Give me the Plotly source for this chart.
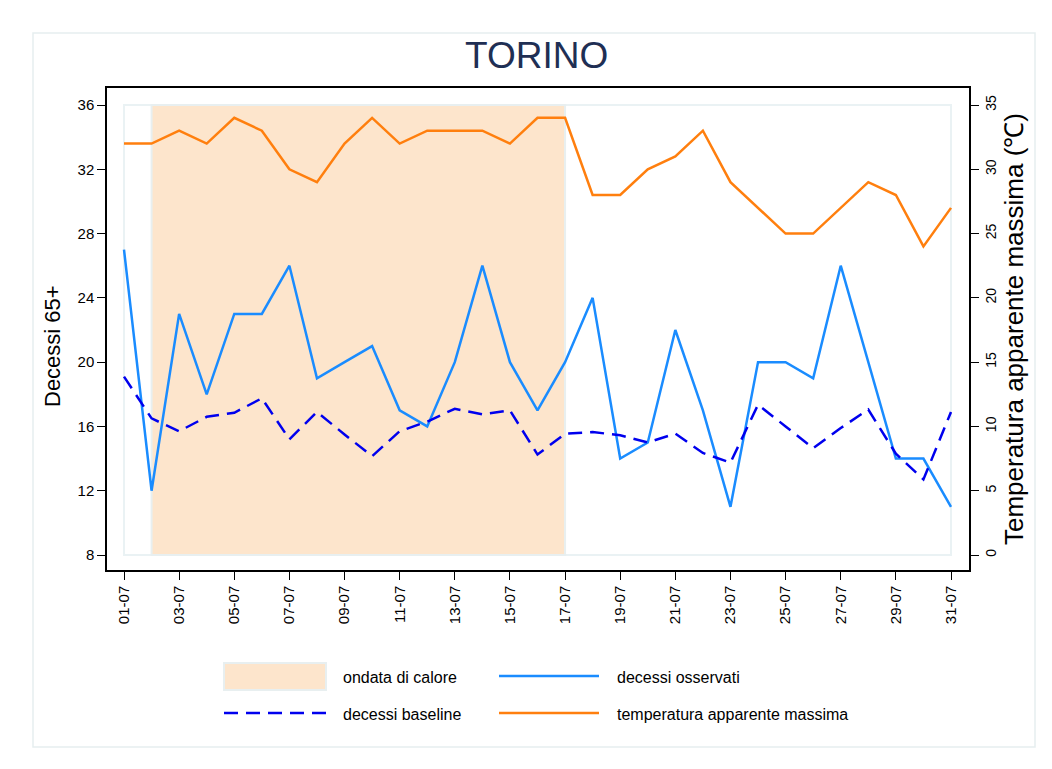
import plotly.graph_objects as go

# ---- data ----
days = list(range(1, 32))
tick_days = list(range(1, 32, 2))
tick_labels = [f"{d:02d}-07" for d in tick_days]
observed = [27, 12, 23, 18, 23, 23, 26, 19, 20, 21, 17, 16, 20, 26, 20, 17, 20,
            24, 14, 15, 22, 17, 11, 20, 20, 19, 26, 20, 14, 14, 11]
baseline = [19.1, 16.5, 15.7, 16.6, 16.85, 17.75, 15.2, 16.9, 15.5, 14.15, 15.7,
            16.3, 17.1, 16.75, 17.0, 14.25, 15.55, 15.65, 15.45, 15.0, 15.55,
            14.35, 13.75, 17.35, 16.0, 14.65, 15.9, 17.05, 14.3, 12.7, 16.9]
temperature = [32, 32, 33, 32, 34, 33, 30, 29, 32, 34, 32, 33, 33, 33, 32, 34, 34,
               28, 28, 30, 31, 33, 29, 27, 25, 25, 27, 29, 28, 24, 27]
heatwave_start, heatwave_end = 2, 17
left_ticks = list(range(8, 37, 4))
right_ticks = list(range(0, 36, 5))

OFF = 8                      # browser body margin
W, H = 1052 - 2 * OFF, 769 - 2 * OFF
L, R, T, B = 107, 969, 88, 570   # axes box in page pixels
FONT = "Liberation Sans, Arial, sans-serif"

def px(x):
    return (x - L) / (R - L)

def py(y):
    return (B - y) / (B - T)

fig = go.Figure()

fig.add_trace(go.Scatter(x=days, y=observed, mode="lines", name="decessi osservati",
                         line=dict(color="#1a8cff", width=2.5), showlegend=False))
fig.add_trace(go.Scatter(x=days, y=baseline, mode="lines", name="decessi baseline",
                         line=dict(color="#0000ee", width=2.5, dash="14px,8px"),
                         showlegend=False))
fig.add_trace(go.Scatter(x=days, y=temperature, mode="lines",
                         name="temperatura apparente massima", yaxis="y2",
                         line=dict(color="#ff7f0e", width=2.5), showlegend=False))

# pixel scales
xpp = (31 - 1) / (951 - 124)
ypp = (36 - 8) / (555 - 105)
y2pp = 35 / (555 - 105)
xr = [1 - (124 - L) * xpp, 31 + (R - 951) * xpp]
yr = [8 - (B - 555) * ypp, 36 + (105 - T) * ypp]
y2r = [0 - (B - 555) * y2pp, 35 + (105 - T) * y2pp]

shapes = []
# outer decorative frames
shapes.append(dict(type="rect", xref="paper", yref="paper", x0=px(6), x1=px(1070),
                   y0=py(790), y1=py(7), line=dict(color="#e6eeef", width=1.5),
                   fillcolor="rgba(0,0,0,0)", layer="below"))
shapes.append(dict(type="rect", xref="paper", yref="paper", x0=px(33), x1=px(1035),
                   y0=py(747), y1=py(33), line=dict(color="#e6eeef", width=1.5),
                   fillcolor="rgba(0,0,0,0)", layer="below"))
# plot region
shapes.append(dict(type="rect", xref="x", yref="y", x0=1, x1=31, y0=8, y1=36,
                   line=dict(color="#eaf2f4", width=2), fillcolor="white", layer="below"))
# heat wave
shapes.append(dict(type="rect", xref="x", yref="y", x0=heatwave_start, x1=heatwave_end,
                   y0=8, y1=36, line=dict(color="#e8eff0", width=2),
                   fillcolor="#fde5cc", layer="below"))

# manual legend
shapes.append(dict(type="rect", xref="paper", yref="paper", x0=px(224), x1=px(326),
                   y0=py(690), y1=py(663), line=dict(color="#e8eff0", width=2),
                   fillcolor="#fde5cc"))
shapes.append(dict(type="line", xref="paper", yref="paper", x0=px(499), x1=px(599),
                   y0=py(676), y1=py(676), line=dict(color="#1a8cff", width=2.5)))
shapes.append(dict(type="line", xref="paper", yref="paper", x0=px(224), x1=px(326),
                   y0=py(713), y1=py(713), line=dict(color="#0000ee", width=2.5,
                                                     dash="14px,8px")))
shapes.append(dict(type="line", xref="paper", yref="paper", x0=px(499), x1=px(599),
                   y0=py(713), y1=py(713), line=dict(color="#ff7f0e", width=2.5)))

annotations = [
    dict(text="TORINO", xref="paper", yref="paper", x=px(536), y=py(55),
         showarrow=False, font=dict(size=37, color="#1f2f54", family=FONT),
         xanchor="center", yanchor="middle"),
    dict(text="Decessi 65+", xref="paper", yref="paper", x=px(52), y=py(346),
         showarrow=False, textangle=-90, xanchor="center", yanchor="middle",
         font=dict(size=22, color="black", family=FONT)),
]
for text, x, y in [("ondata di calore", 341, 677), ("decessi osservati", 615, 677),
                   ("decessi baseline", 341, 714),
                   ("temperatura apparente massima", 615, 714)]:
    annotations.append(dict(text=text, xref="paper", yref="paper", x=px(x), y=py(y),
                            showarrow=False, xanchor="left", yanchor="middle",
                            font=dict(size=16, color="black", family=FONT)))

fig.update_layout(
    width=W, height=H, autosize=False,
    margin=dict(l=L - OFF, r=W - (R - OFF), t=T - OFF, b=H - (B - OFF), pad=0),
    paper_bgcolor="white", plot_bgcolor="white",
    font=dict(family=FONT, color="black"),
    showlegend=False,
    shapes=shapes, annotations=annotations,
    xaxis=dict(range=xr, tickvals=tick_days, ticktext=tick_labels, tickangle=-90,
               ticks="outside", ticklen=8, tickwidth=1.2, tickcolor="black",
               showline=True, linecolor="black", linewidth=1.5, mirror=True,
               showgrid=False, zeroline=False, tickfont=dict(size=15)),
    yaxis=dict(range=yr, tickvals=left_ticks, ticks="outside", ticklen=8,
               tickwidth=1.2, tickcolor="black", showline=True, linecolor="black",
               linewidth=1.5, showgrid=False, zeroline=False,
               tickfont=dict(size=15)),
    yaxis2=dict(range=y2r, tickvals=right_ticks, overlaying="y", side="right",
                ticks="outside", ticklen=8, tickwidth=1.2, tickcolor="black",
                showline=True, linecolor="black", linewidth=1.5, showgrid=False,
                zeroline=False, tickangle=-90, tickfont=dict(size=14),
                title=dict(text="Temperatura apparente massima (℃)",
                           font=dict(size=26), standoff=4)),
)

fig.write_html("out.html")
